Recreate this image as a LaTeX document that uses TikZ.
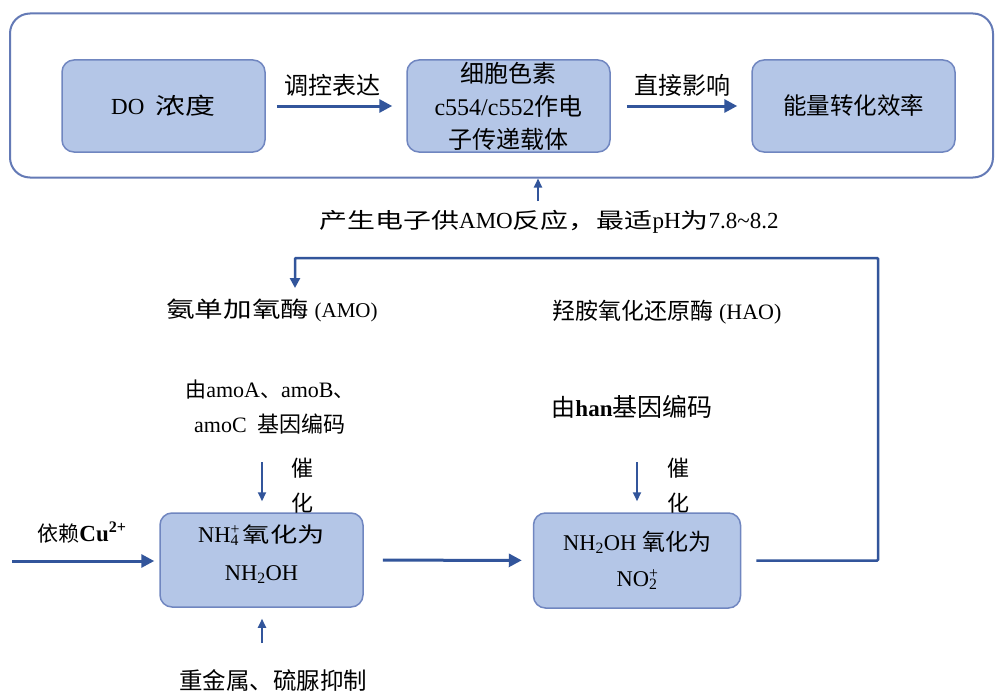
\documentclass[tikz,border=0pt]{standalone}
\usepackage{fontspec}
\setmainfont{Liberation Serif}
\newfontfamily\cjk{Noto Sans CJK SC}
\newfontfamily\cjkw[FakeStretch=1.3]{Noto Sans CJK SC}
\usetikzlibrary{arrows.meta}
\definecolor{boxfill}{RGB}{180,198,231}
\definecolor{boxline}{RGB}{112,134,192}
\definecolor{arrowblue}{RGB}{50,85,155}
\definecolor{frameline}{RGB}{100,122,182}
\newcommand\fsz[2]{\fontsize{#1}{#2}\selectfont}
\newcommand\subsup[2]{\makebox[0pt][l]{\textsuperscript{#2}}\textsubscript{#1}}
\tikzset{
  frame/.style={draw=frameline, line width=2pt, rounded corners=20pt, minimum width=983pt, minimum height=164pt, inner sep=0pt},
  box/.style={draw=boxline, fill=boxfill, line width=1.5pt, rounded corners=12pt, minimum width=203pt, minimum height=92pt, align=center, inner sep=0pt},
  lbl/.style={inner sep=0pt, align=center, text=black},
  bigarr/.style={draw=arrowblue, line width=3pt, -{Triangle[length=13pt,width=13pt]}},
  smallarr/.style={draw=arrowblue, line width=2pt, -{Triangle[length=9pt,width=8pt]}},
  connarr/.style={draw=arrowblue, line width=2.5pt, -{Triangle[length=10pt,width=10pt]}}
}
\begin{document}
\begin{tikzpicture}[x=1pt,y=-1pt]
\useasboundingbox (0,0) rectangle (995,693);
\fill[white] (0,0) rectangle (995,693);

% top frame and boxes
\node[frame] (frame) at (501.5,95.5) {};
\node[box, font={\fsz{23}{28}}] (do) at (163.5,106) {DO\hspace{0.5em}{\cjkw 浓度}};
\node[box, font={\fsz{24}{33}}] (cyt) at (508.5,106) {{\cjk 细胞色素}\\c554/c552{\cjk 作电}\\{\cjk 子传递载体}};
\node[box, font={\cjk\fsz{23.5}{28}}] (eff) at (853.5,106) {能量转化效率};
\node[lbl, font={\cjk\fsz{24}{28}}] (ltk) at (332,85) {调控表达};
\node[lbl, font={\cjk\fsz{24}{28}}] (lzj) at (682,85) {直接影响};
\draw[bigarr, shorten <=11pt, shorten >=14pt] (do) -- (cyt);
\draw[bigarr, shorten <=16pt, shorten >=14pt] (cyt) -- (eff);

% electron supply label
\node[lbl, font={\fsz{23}{26}}] (pp) at (549,222) {{\cjkw\fsz{21.5}{26}产生电子供}AMO{\cjkw\fsz{21.5}{26}反应，最适}pH{\cjkw\fsz{21.5}{26}为}7.8\textasciitilde 8.2};
\coordinate (ppa) at (538,201);
\draw[smallarr] (ppa) -- (ppa |- frame.south);

% bottom boxes
\node[box, minimum height=94pt] (b1) at (261.5,560) {};
\node[lbl, font={\fsz{22.5}{38}}] (t1) at (261.5,554) {NH\subsup{4}{+}\,{\cjkw\fsz{21}{38}氧化为}\\NH\textsubscript{2}OH};
\node[box, minimum width=207pt, minimum height=95pt, font={\fsz{22.5}{36}}] (b2) at (637,560.5) {NH\textsubscript{2}OH {\cjk\fsz{23}{36}氧化为}\\NO\subsup{2}{+}};
\draw[bigarr, shorten <=19pt, shorten >=11pt] (b1) -- (b2);

% Cu input
\node[lbl, font={\fsz{21}{26}}] (cu) at (82,533) {{\cjk 依赖}\textbf{\fsz{23}{26}Cu\textsuperscript{2+}}};
\coordinate (cuin) at (12,561);
\draw[bigarr, shorten >=5pt] (cuin) -- (cuin -| b1.west);

% enzyme labels
\node[lbl, font={\fsz{21}{26}}] (amo) at (272,310) {{\cjkw\fsz{22}{26}氨单加氧酶} (AMO)};
\node[lbl, font={\fsz{22}{26}}] (hao) at (667,312) {{\cjk\fsz{23}{26}羟胺氧化还原酶} (HAO)};
\node[lbl, font={\fsz{22}{35}}] (amog) at (270,407) {{\cjk\fsz{21}{35}由}amoA{\cjk\fsz{21}{35}、}amoB{\cjk\fsz{21}{35}、}\\amoC\hspace{0.5em}{\cjk\fsz{22}{35}基因编码}};
\node[lbl, font={\fsz{23}{28}}] (hang) at (632,407) {{\cjk\fsz{24}{28}由}\textbf{han}{\cjk\fsz{25}{28}基因编码}};

% catalysis arrows
\node[lbl, font={\cjk\fsz{22}{35}}] (cat1) at (302,485.5) {催\\化};
\node[lbl, font={\cjk\fsz{22}{35}}] (cat2) at (678,485.5) {催\\化};
\coordinate (c1a) at (262,462);
\coordinate (c2a) at (637,462);
\draw[smallarr, shorten >=11pt] (c1a) -- (c1a |- b1.north);
\draw[smallarr, shorten >=11pt] (c2a) -- (c2a |- b2.north);

% inhibition
\node[lbl, font={\cjk\fsz{23.5}{28}}] (inh) at (273,680) {重金属、硫脲抑制};
\coordinate (inha) at (262,643);
\draw[smallarr, shorten >=11pt] (inha) -- (inha |- b1.south);

% feedback connector
\coordinate (k1) at (878,258);
\coordinate (k2) at (295,258);
\coordinate (k3) at (295,288);
\draw[connarr, rounded corners=1pt] ([xshift=15pt]b2.east) -| (k1) -- (k2) -- (k3);
\end{tikzpicture}
\end{document}
